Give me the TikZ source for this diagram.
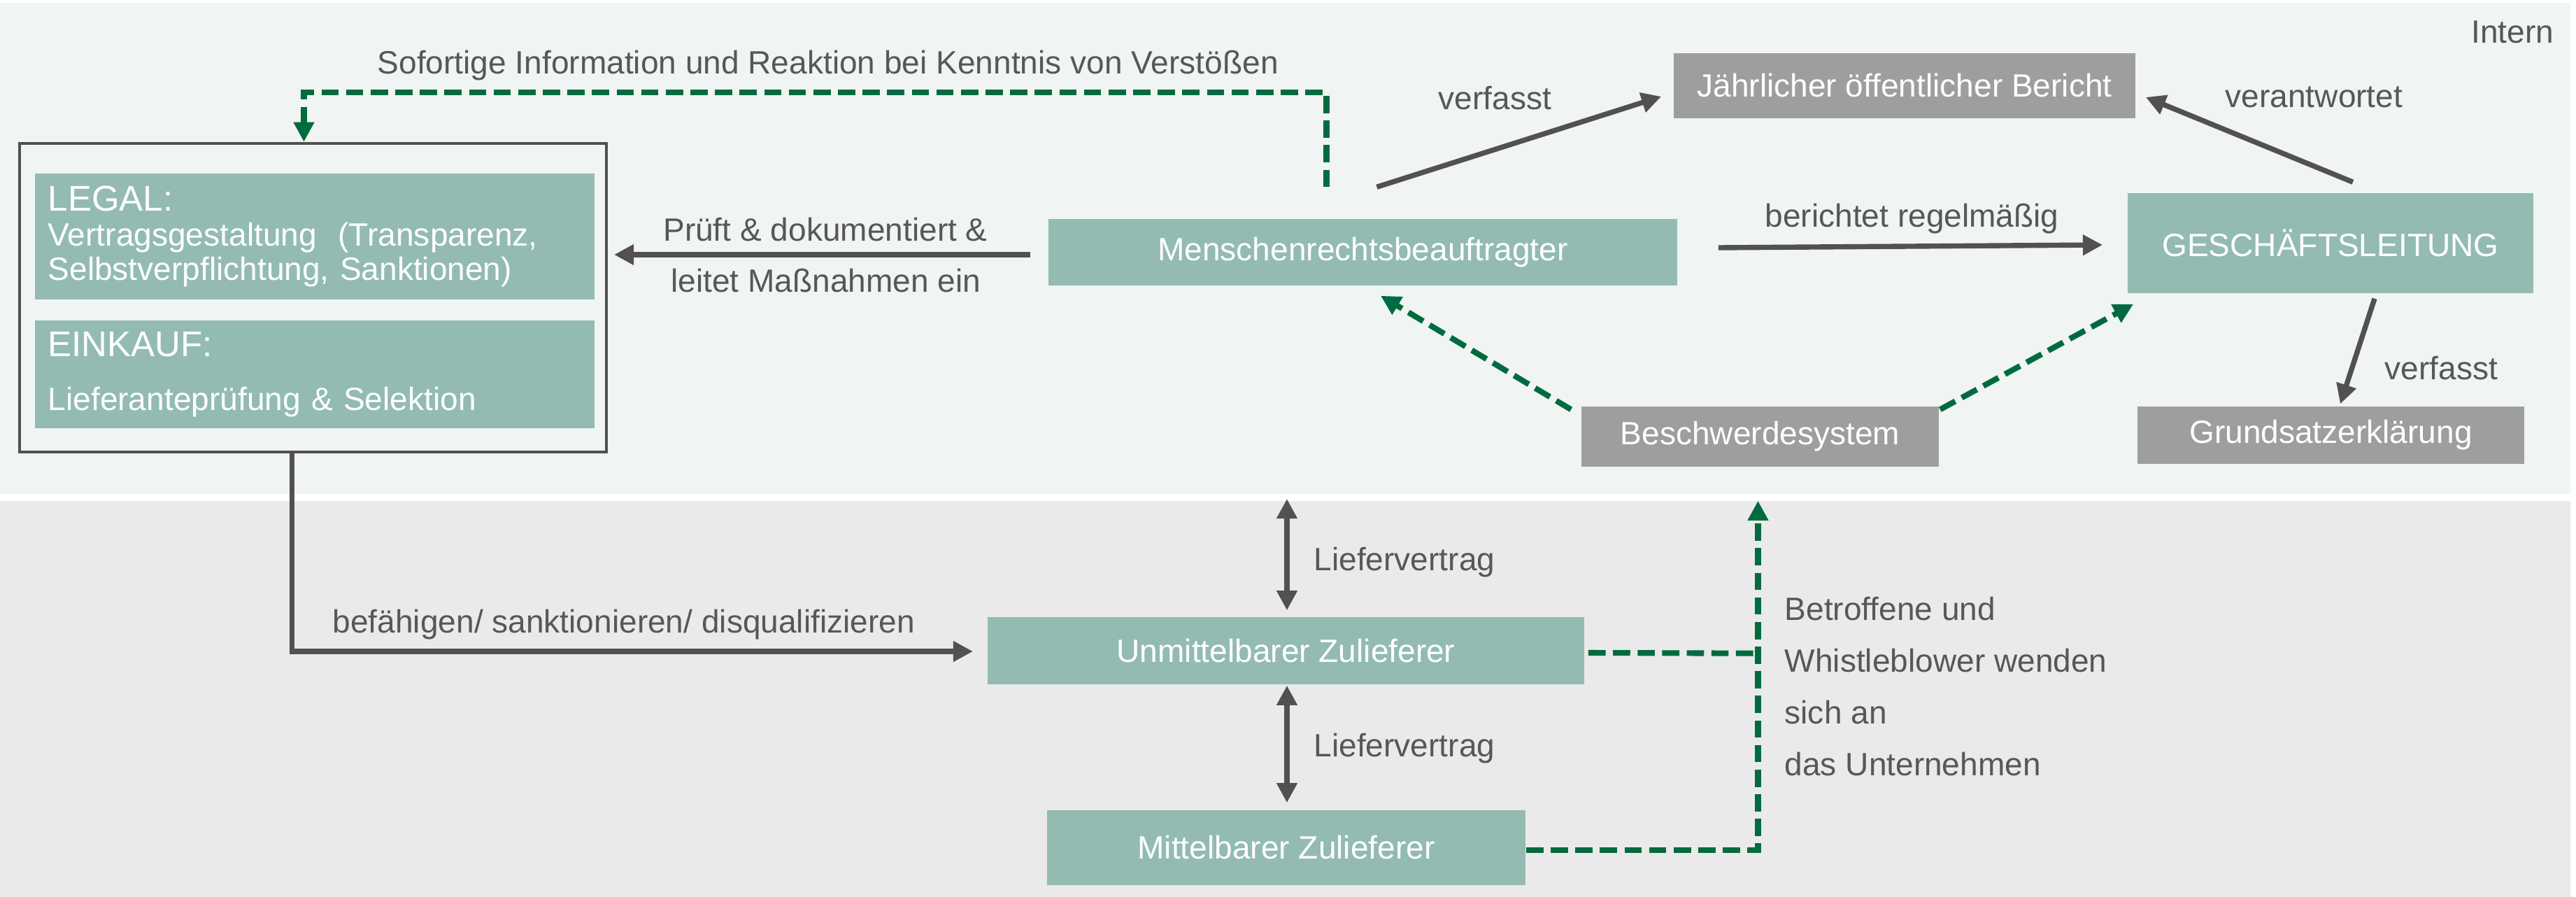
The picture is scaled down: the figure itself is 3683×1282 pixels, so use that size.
\documentclass[tikz,border=0pt]{standalone}
\usepackage{fontspec}
\setmainfont{Liberation Sans}
\usetikzlibrary{arrows.meta}

\definecolor{bandoben}{HTML}{F0F4F3}
\definecolor{bandunten}{HTML}{EAEAEA}
\definecolor{tuerkis}{HTML}{93BBB2}
\definecolor{grau}{HTML}{9E9E9E}
\definecolor{pfeil}{HTML}{525150}
\definecolor{gruen}{HTML}{006B3F}
\definecolor{schrift}{HTML}{575757}

\begin{document}
\begin{tikzpicture}[x=0.01cm,y=-0.01cm,
  font=\fontsize{13.1}{14}\selectfont,
  tealbox/.style={fill=tuerkis, text=white, inner sep=0pt},
  graybox/.style={fill=grau, text=white, inner sep=0pt},
  lbl/.style={text=schrift, inner sep=0pt},
  arr/.style={draw=pfeil, line width=2.1pt, -{Triangle[length=8pt,width=8pt]}},
  darr/.style={draw=pfeil, line width=2.1pt, {Triangle[length=8pt,width=8pt]}-{Triangle[length=8pt,width=8pt]}},
  gdash/.style={draw=gruen, line width=2.3pt, dash pattern=on 7pt off 3pt, -{Triangle[length=8pt,width=8pt]}}]
\useasboundingbox (0,0) rectangle (3683,1282);
% Hintergrund
\fill[bandoben] (0,4) rectangle (3675,706);
\fill[bandunten] (0,716) rectangle (3675,1282);

% Intern
\node[lbl, anchor=base east] (intern) at (3652,62) {Intern};
\node[draw=pfeil, line width=1.2pt, minimum width=8.39cm, minimum height=4.41cm, inner sep=0pt] (fw) at (447.5,425.5) {};
\node[tealbox, minimum width=8cm, minimum height=1.8cm, text width=7.62cm, align=left] (legal) at (450,338)
  {{\fontsize{14.5}{16}\selectfont LEGAL:}\\Vertragsgestaltung\ \ (Transparenz,\\Selbstverpflichtung, Sanktionen)};
\node[tealbox, minimum width=8cm, minimum height=1.54cm, text width=7.62cm, align=left] (einkauf) at (450,535)
  {{\fontsize{14.5}{16}\selectfont EINKAUF:}\\[8pt]Lieferanteprüfung \& Selektion};
\node[tealbox, minimum width=8.99cm, minimum height=0.95cm] (mr) at (1948.5,360.5) {Menschenrechtsbeauftragter};
\node[graybox, minimum width=6.6cm, minimum height=0.93cm] (bericht) at (2723,122.5) {Jährlicher öffentlicher Bericht};
\node[tealbox, minimum width=5.8cm, minimum height=1.43cm] (gl) at (3332,347.5) {GESCHÄFTSLEITUNG};
\node[graybox, minimum width=5.11cm, minimum height=0.86cm] (bs) at (2516.5,624) {Beschwerdesystem};
\node[graybox, minimum width=5.53cm, minimum height=0.82cm] (gs) at (3332.5,622) {Grundsatzerklärung};

% Extern
\node[tealbox, minimum width=8.53cm, minimum height=0.96cm] (uz) at (1838.5,930) {Unmittelbarer Zulieferer};
\node[tealbox, minimum width=6.84cm, minimum height=1.07cm] (mz) at (1839,1211.5) {Mittelbarer Zulieferer};
\coordinate (grenze) at (1840,713);

% Beschriftungen
\node[lbl, anchor=base west] (sofort) at (539,106) {Sofortige Information und Reaktion bei Kenntnis von Verstößen};
\node[lbl, anchor=base west] (vf1) at (2056,157) {verfasst};
\node[lbl, anchor=base west] (verant) at (3181,154) {verantwortet};
\node[lbl, anchor=base west] (ber) at (2523,325) {berichtet regelmäßig};
\node[lbl, anchor=base] (pruef) at (1180,344) {Prüft \& dokumentiert \&};
\node[lbl, anchor=base] (leitet) at (1181,417) {leitet Maßnahmen ein};
\node[lbl, anchor=base west] (vf2) at (3409,542) {verfasst};
\node[lbl, anchor=base west] (bef) at (475,904) {befähigen/ sanktionieren/ disqualifizieren};
\node[lbl, anchor=base west] (lv1) at (1878,815) {Liefervertrag};
\node[lbl, anchor=base west] (lv2) at (1878,1081) {Liefervertrag};
\node[lbl, anchor=base west, align=left, font=\fontsize{13.1}{21}\selectfont] (wb) at (2551,1108)
  {Betroffene und\\Whistleblower wenden\\sich an\\das Unternehmen};

% Pfeile
\draw[gdash] ([shift={(-52,-45)}]mr.north) -- ([shift={(-52,-180)}]mr.north) -| ([shift={(-13,0)}]fw.north);
\draw[arr] ([shift={(-25,3.5)}]mr.west) -- ([shift={(-620,3.5)}]mr.west);
\draw[arr] ([shift={(20,-45)}]mr.north) -- ([shift={(-17,15.5)}]bericht.west);
\draw[arr] ([shift={(32,-15)}]gl.north) -- ([shift={(14,16.5)}]bericht.east);
\draw[arr] ([shift={(58,-6.5)}]mr.east) -- ([shift={(-35,2.5)}]gl.west);
\draw[arr] ([shift={(63,7)}]gl.south) -- ([shift={(13.5,-3)}]gs.north);
\draw[gdash] ([shift={(-14,5)}]bs.north west) -- ([shift={(25.5,14)}]mr.south);
\draw[gdash] ([shift={(1,5)}]bs.north east) -- ([shift={(9,15)}]gl.south west);
\draw[arr] ([shift={(-30,0)}]fw.south) |- ([shift={(-20,1)}]uz.west);
\draw[darr] (grenze) -- ([shift={(1.5,-9)}]uz.north);
\draw[darr] ([shift={(1.5,1)}]uz.south) -- ([shift={(1,-10)}]mz.north);
\draw[gdash, -] ([shift={(5,3)}]uz.east) -- ([shift={(-3,266)}]bs.south);
\draw[gdash] ([shift={(0,3.5)}]mz.east) -| ([shift={(-3,48)}]bs.south);
\end{tikzpicture}
\end{document}
